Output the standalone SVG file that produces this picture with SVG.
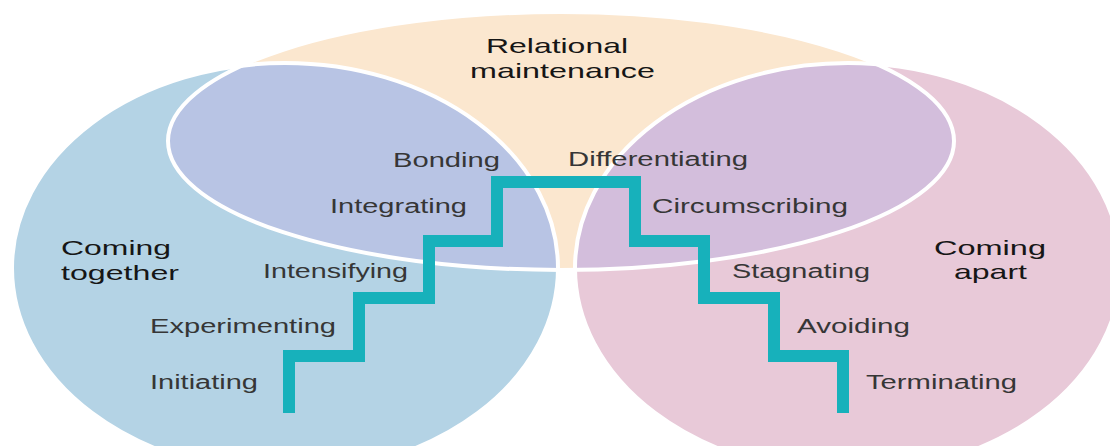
<svg xmlns="http://www.w3.org/2000/svg" width="1110" height="446" viewBox="0 0 1110 446">
<style>
.lbl{font-family:"Liberation Sans",Arial,Helvetica,sans-serif;font-size:20px;fill:#363636}
.hd{font-family:"Liberation Sans",Arial,Helvetica,sans-serif;font-size:21px;fill:#161616}
.edge{fill:none;stroke:#ffffff;stroke-width:4}
.stair{fill:none;stroke:#17b1bb;stroke-width:12;stroke-linejoin:miter;stroke-linecap:butt}
</style>
<defs>
<ellipse id="eY" cx="561" cy="141" rx="393" ry="129"/>
<ellipse id="eL" cx="285" cy="268" rx="273" ry="205"/>
<ellipse id="eR" cx="848" cy="268" rx="273" ry="205"/>
<clipPath id="clipY"><ellipse cx="561" cy="141" rx="393" ry="129"/></clipPath>
</defs>
<rect width="1110" height="446" fill="#ffffff"/>
<g id="relational-maintenance"><use href="#eY" fill="#fbe7cf"/></g>
<g id="coming-together"><use href="#eL" fill="#b4d3e5"/></g>
<g id="coming-apart"><use href="#eR" fill="#e8c9d8"/></g>
<g id="overlap-left" clip-path="url(#clipY)"><use href="#eL" fill="#b8c4e4"/></g>
<g id="overlap-right" clip-path="url(#clipY)"><use href="#eR" fill="#d3bedc"/></g>
<g id="outlines">
<use href="#eY" class="edge"/>
<use href="#eL" class="edge"/>
<use href="#eR" class="edge"/>
</g>
<g id="connectors">
<path class="stair" d="M289,413 V356 H359 V298 H429 V241 H497 V182 H635 V241 H704 V298 H774 V356 H843 V413"/>
</g>
<g id="label-relational-maintenance">
<text class="hd" x="486" y="53" textLength="142" lengthAdjust="spacingAndGlyphs">Relational</text>
<text class="hd" x="470" y="78" textLength="185" lengthAdjust="spacingAndGlyphs">maintenance</text>
</g>
<g id="label-coming-together">
<text class="hd" x="61" y="255" textLength="110" lengthAdjust="spacingAndGlyphs">Coming</text>
<text class="hd" x="61" y="280" textLength="118" lengthAdjust="spacingAndGlyphs">together</text>
</g>
<g id="label-coming-apart">
<text class="hd" x="934" y="255" textLength="112" lengthAdjust="spacingAndGlyphs">Coming</text>
<text class="hd" x="954" y="279" textLength="73" lengthAdjust="spacingAndGlyphs">apart</text>
</g>
<g id="stage-initiating"><text class="lbl" x="150" y="389" textLength="108" lengthAdjust="spacingAndGlyphs">Initiating</text></g>
<g id="stage-experimenting"><text class="lbl" x="150" y="333" textLength="186" lengthAdjust="spacingAndGlyphs">Experimenting</text></g>
<g id="stage-intensifying"><text class="lbl" x="263" y="278" textLength="145" lengthAdjust="spacingAndGlyphs">Intensifying</text></g>
<g id="stage-integrating"><text class="lbl" x="330" y="213" textLength="137" lengthAdjust="spacingAndGlyphs">Integrating</text></g>
<g id="stage-bonding"><text class="lbl" x="393" y="167" textLength="107" lengthAdjust="spacingAndGlyphs">Bonding</text></g>
<g id="stage-differentiating"><text class="lbl" x="568" y="166" textLength="180" lengthAdjust="spacingAndGlyphs">Differentiating</text></g>
<g id="stage-circumscribing"><text class="lbl" x="652" y="213" textLength="196" lengthAdjust="spacingAndGlyphs">Circumscribing</text></g>
<g id="stage-stagnating"><text class="lbl" x="732" y="278" textLength="138" lengthAdjust="spacingAndGlyphs">Stagnating</text></g>
<g id="stage-avoiding"><text class="lbl" x="797" y="333" textLength="113" lengthAdjust="spacingAndGlyphs">Avoiding</text></g>
<g id="stage-terminating"><text class="lbl" x="866" y="389" textLength="151" lengthAdjust="spacingAndGlyphs">Terminating</text></g>
</svg>
